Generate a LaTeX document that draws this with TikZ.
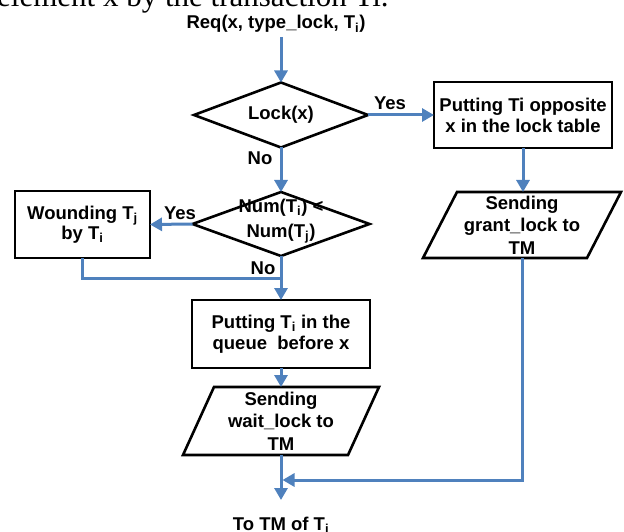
\documentclass[tikz,border=0pt]{standalone}
\usepackage{fontspec}
\setmainfont{Liberation Sans}
\newfontfamily\serifface{Liberation Serif}
\usetikzlibrary{arrows.meta,shapes.geometric}
\definecolor{flowblue}{HTML}{4F81BD}
\begin{document}
\begin{tikzpicture}[x=1pt,y=-1pt,
  lbl/.style={font=\fontsize{18.5}{21}\selectfont\bfseries, align=center, inner sep=0pt, outer sep=0pt},
  box/.style={draw=black, line width=2.6pt, rectangle, inner sep=0pt, outer sep=0pt},
  dec/.style={draw=black, line width=2.6pt, diamond, inner sep=0pt, outer sep=0pt},
  iobox/.style={lbl, font=\fontsize{18.5}{22.5}\selectfont\bfseries},
  ioframe/.style={draw=black, line width=2.6pt, line join=miter},
  flow/.style={draw=flowblue, line width=3pt, -{Triangle[width=13pt,length=12pt]}},
  link/.style={draw=flowblue, line width=3pt}]
\useasboundingbox (0,0) rectangle (624,532);
\clip (0,0) rectangle (624,532);

% running text line above the chart
\node[font=\serifface\fontsize{31}{36}\selectfont, anchor=base west, inner sep=0pt] (caption) at (-3,7) {element x by the transaction Ti.};

% entry
\node[lbl, anchor=base] (req) at (276,29) {Req(x, type\_lock, T\textsubscript{i})};

% first decision
\node[dec, minimum width=174pt, minimum height=65pt] (lock) at (281,115) {};
\node[lbl] (locktxt) at (lock.center) {Lock(x)};

% grant branch
\node[box, lbl, minimum width=178pt, minimum height=66pt] (table) at (523,115) {Putting Ti opposite\\x in the lock table};
\node[iobox, minimum width=164pt, minimum height=66pt] (grant) at (522,225) {Sending\\grant\_lock to\\TM};
\draw[ioframe] ([xshift=17pt]grant.north west) -- ([xshift=17pt]grant.north east)
  -- ([xshift=-17pt]grant.south east) -- ([xshift=-17pt]grant.south west) -- cycle;

% second decision
\node[dec, minimum width=177pt, minimum height=64pt] (cmp) at (281,224) {};
\node[lbl, font=\fontsize{18.5}{25}\selectfont\bfseries] (cmptxt) at (281,221) {Num(T\textsubscript{i}) <\\Num(T\textsubscript{j})};

% wound branch
\node[box, lbl, minimum width=135pt, minimum height=67pt, font=\fontsize{18.5}{20}\selectfont\bfseries] (wound) at (82.5,224.5) {Wounding T\textsubscript{j}\\by T\textsubscript{i}};

% wait branch
\node[box, lbl, minimum width=178pt, minimum height=68pt] (queue) at (281,334) {Putting T\textsubscript{i} in the\\queue\ \ before x};
\node[iobox, minimum width=165pt, minimum height=68pt] (wait) at (281,421) {Sending\\wait\_lock to\\TM};
\draw[ioframe] ([xshift=15.5pt]wait.north west) -- ([xshift=15.5pt]wait.north east)
  -- ([xshift=-15.5pt]wait.south east) -- ([xshift=-15.5pt]wait.south west) -- cycle;

% exit
\node[lbl, anchor=base] (out) at (281,530) {To TM of T\textsubscript{i}};

% junction points
\coordinate (joinA) at (281,278);
\coordinate (joinB) at (282.5,480);
\coordinate (start) at (281,37);
\coordinate (tip) at (281,500);

% connectors
\draw[flow] (start) -- (lock.north);
\draw[flow] (lock.east) -- (table.west);
\draw[flow] (table.south) -- ([xshift=1pt]grant.north);
\draw[flow] (lock.south) -- (cmp.north);
\draw[flow] (cmp.west) -- (wound.east);
\draw[link] (wound.south) |- (joinA);
\draw[flow] (cmp.south) -- (queue.north);
\draw[flow] (queue.south) -- (wait.north);
\draw[flow] (wait.south) -- (tip);
\draw[flow] (grant.south) |- (joinB);

% branch labels
\node[lbl] (yes1) at (390,103) {Yes};
\node[lbl] (no1) at (260,158) {No};
\node[lbl] (yes2) at (180,213) {Yes};
\node[lbl] (no2) at (263,268) {No};
\end{tikzpicture}
\end{document}
